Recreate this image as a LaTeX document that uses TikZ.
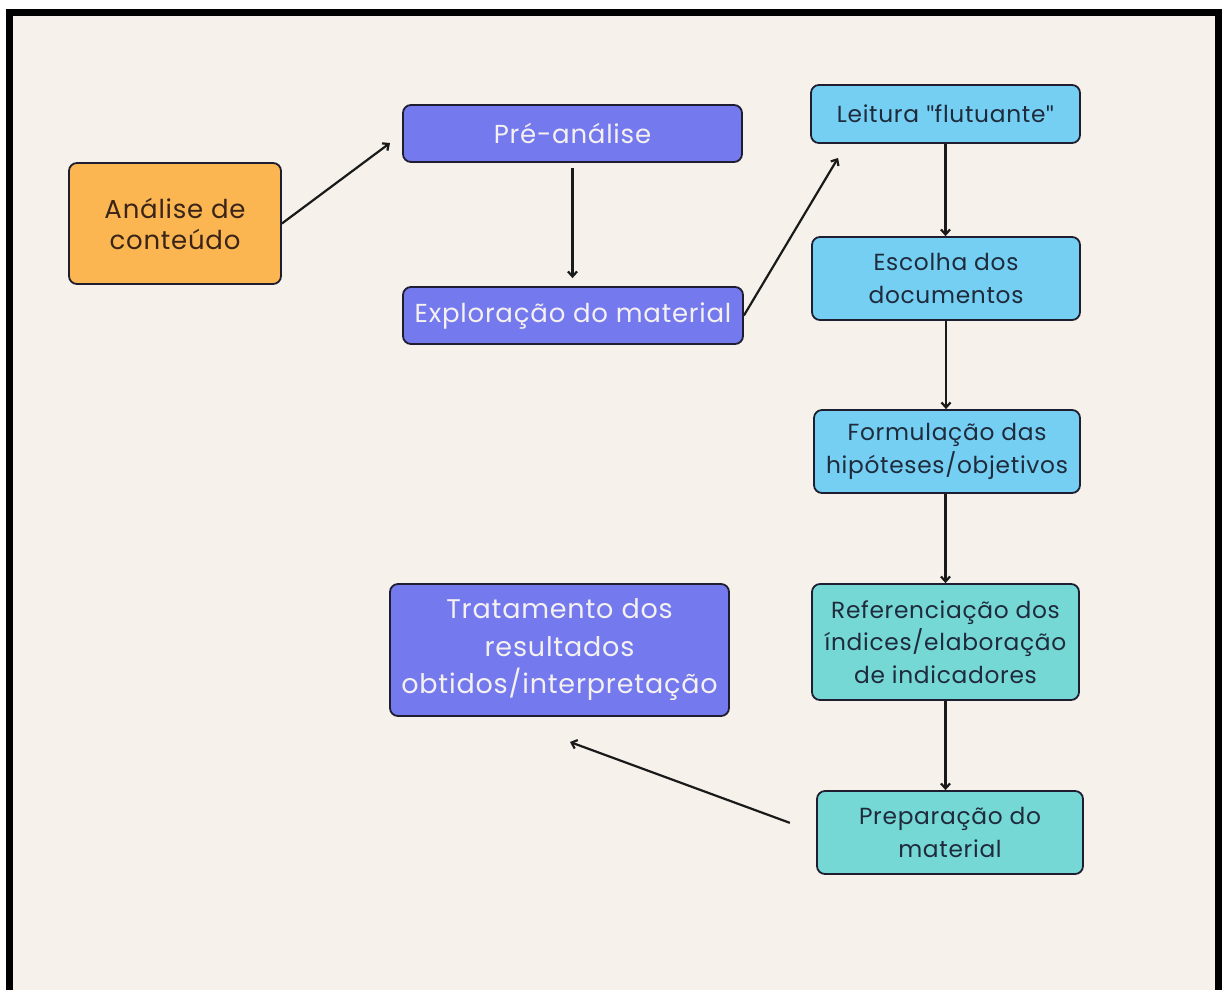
\documentclass[tikz,border=0pt]{standalone}
\usepackage{fontspec}
\setmainfont{Poppins}[LetterSpace=3]
\newfontfamily\qfont{Lato}
\newcommand{\sq}{{\qfont\symbol{34}}}
\usetikzlibrary{arrows.meta}
\definecolor{cream}{HTML}{F6F2EB}
\definecolor{orangefill}{HTML}{FBB652}
\definecolor{perifill}{HTML}{7479EE}
\definecolor{bluefill}{HTML}{74CFF2}
\definecolor{tealfill}{HTML}{76D8D5}
\definecolor{edge}{HTML}{1E1E30}
\definecolor{lighttext}{HTML}{F4F1EE}
\definecolor{darktext}{HTML}{1F2B3C}
\definecolor{browntext}{HTML}{3A2418}
\definecolor{arrowcol}{HTML}{1A1A1A}
\tikzset{
  box/.style={draw=edge, line width=1.8pt, rounded corners=8pt, align=center, inner sep=0pt},
  anabox/.style={box, fill=orangefill, text=browntext, font=\fontsize{26}{31}\selectfont},
  peribox/.style={box, fill=perifill, text=lighttext, font=\fontsize{26}{37}\selectfont},
  bluebox/.style={box, fill=bluefill, text=darktext, font=\fontsize{23.3}{32.5}\selectfont},
  tealbox/.style={box, fill=tealfill, text=darktext, font=\fontsize{23.3}{32.5}\selectfont},
  arr/.style={draw=arrowcol, line width=2.2pt, -{Straight Barb[length=5pt,width=9pt,line width=2.2pt]}}
}
\begin{document}
\begin{tikzpicture}[x=1pt,y=-1pt]
\useasboundingbox (0,0) rectangle (1222,989);
\fill[white] (0,0) rectangle (1222,989);
\clip (0,0) rectangle (1222,989);
\draw[line width=7pt, fill=cream] (9.5,12.5) rectangle (1218.5,1010);

\node[anabox, minimum width=212pt, minimum height=121pt] (ana) at (175,223.5) {Análise de\\conteúdo};
\node[peribox, minimum width=339pt, minimum height=57pt] (pre) at (572.5,133.5) {Pré-análise};
\node[peribox, minimum width=340pt, minimum height=57pt] (exp) at (573,315.5) {Exploração do material};
\node[peribox, minimum width=339pt, minimum height=132pt, font=\fontsize{27}{37.5}\selectfont] (tra) at (559.5,650) {Tratamento dos\\resultados\\obtidos/interpretação};
\node[bluebox, minimum width=269pt, minimum height=58pt] (lei) at (945.5,114) {Leitura \sq flutuante\sq};
\node[bluebox, minimum width=268pt, minimum height=83pt] (esc) at (946,278.5) {Escolha dos\\documentos};
\node[bluebox, minimum width=266pt, minimum height=83pt] (for) at (947,451.5) {Formulação das\\hipóteses/objetivos};
\node[tealbox, minimum width=267pt, minimum height=116pt] (ref) at (945.5,642) {Referenciação dos\\índices/elaboração\\de indicadores};
\node[tealbox, minimum width=266pt, minimum height=83pt] (prep) at (950,832.5) {Preparação do\\material};

\coordinate (t1) at (390,143);
\coordinate (t2) at (838,158);
\coordinate (t3) at (570,742);

\draw[arr] (ana.east) -- (t1);
\draw[arr, shorten <=5pt, shorten >=8pt] (pre.south) -- (pre.south |- exp.north);
\draw[arr] (exp.east) -- (t2);
\draw[arr] (lei.south) -- (lei.south |- esc.north);
\draw[arr] (esc.south) -- (esc.south |- for.north);
\draw[arr] (for.south -| ref.north) -- (ref.north);
\draw[arr] (ref.south) -- (ref.south |- prep.north);
\draw[arr, shorten <=28pt] (prep.west) -- (t3);
\end{tikzpicture}
\end{document}
